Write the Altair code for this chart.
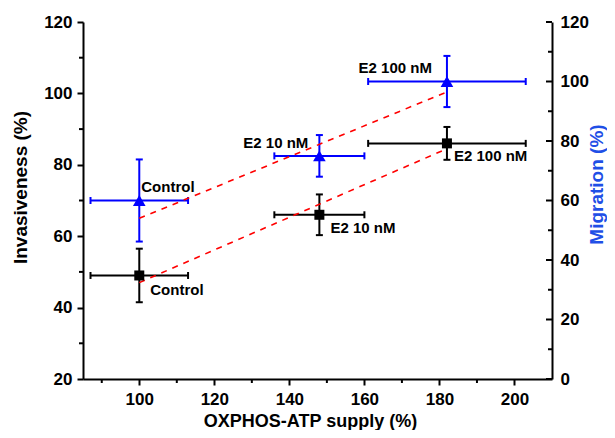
import altair as alt
import pandas as pd

# ---------------- data ----------------
conditions = ["Control", "E2 10 nM", "E2 100 nM"]
atp = [100, 148, 182]            # OXPHOS-ATP supply (%)
atp_err = [13, 12, 21]
invasiveness = [49, 66, 86]      # left axis (%)
inv_err = [7.5, 5.7, 4.6]
migration = [60, 75, 100]        # right axis (%)
mig_err = [13.8, 7.0, 8.6]

fit_x = [100, 182]
inv_fit = [47, 84.5]
mig_fit = [54, 96.5]

x_ticks = [100, 120, 140, 160, 180, 200]
x_minor = [90, 110, 130, 150, 170, 190]
inv_ticks = [20, 40, 60, 80, 100, 120]
inv_minor = [30, 50, 70, 90, 110]
mig_ticks = [0, 20, 40, 60, 80, 100, 120]
mig_minor = [10, 30, 50, 70, 90, 110]

# ---------------- layout / style ----------------
W, H = 469, 357
FONT = "Liberation Sans"
BLUE = "#0000ff"
TITLE_BLUE = "#1f4fe6"

df = pd.DataFrame({
    "condition": conditions,
    "atp": atp,
    "atp_lo": [a - e for a, e in zip(atp, atp_err)],
    "atp_hi": [a + e for a, e in zip(atp, atp_err)],
    "inv": invasiveness,
    "inv_lo": [a - e for a, e in zip(invasiveness, inv_err)],
    "inv_hi": [a + e for a, e in zip(invasiveness, inv_err)],
    "mig": migration,
    "mig_lo": [a - e for a, e in zip(migration, mig_err)],
    "mig_hi": [a + e for a, e in zip(migration, mig_err)],
})
fit_df = pd.DataFrame({"fx": fit_x, "inv_fit": inv_fit, "mig_fit": mig_fit})

xs = alt.Scale(domain=[85, 210], nice=False, zero=False)
ysl = alt.Scale(domain=[20, 120], nice=False, zero=False)
ysr = alt.Scale(domain=[0, 120], nice=False, zero=False)

common_axis = dict(
    labelFont=FONT, labelFontSize=17, labelFontWeight="bold", labelColor="black",
    titleFont=FONT, titleFontSize=19, titleFontWeight="bold",
    domainColor="black", domainWidth=2, tickColor="black", tickWidth=2,
    grid=False, labelFlush=False, labelOverlap=False, format="d",
)

x_common = dict(common_axis, titleFontSize=18)
x_axis = alt.Axis(values=x_ticks, title="OXPHOS-ATP supply (%)", tickSize=6,
                  labelPadding=6, titleColor="black", titleX=227, titleY=42,
                  titleBaseline="middle", titleAlign="center", **x_common)
yl_axis = alt.Axis(values=inv_ticks, title="Invasiveness (%)", tickSize=6,
                   labelPadding=5, titleColor="black", titleAngle=270,
                   titleX=-63, titleY=165, titleBaseline="middle",
                   titleAlign="center", **common_axis)
yr_axis = alt.Axis(values=mig_ticks, title="Migration (%)", orient="right",
                   ticks=False, tickSize=0, labelPadding=8, titleColor=TITLE_BLUE,
                   titleAngle=270, titleX=44, titleY=162, titleBaseline="middle",
                   titleAlign="center", **common_axis)


def X(f):
    return alt.X(f, type="quantitative", scale=xs, axis=x_axis)


def YL(f):
    return alt.Y(f, type="quantitative", scale=ysl, axis=yl_axis)


def YR(f):
    return alt.Y(f, type="quantitative", scale=ysr, axis=yr_axis)


def series_layers(Y, ycol, color, shape, size):
    base = alt.Chart(df)
    layers = [
        base.mark_rule(color=color, strokeWidth=2).encode(
            x=X("atp"), y=Y(ycol + "_lo"), y2=alt.Y2(ycol + "_hi")),
        base.mark_rule(color=color, strokeWidth=2).encode(
            y=Y(ycol), x=X("atp_lo"), x2=alt.X2("atp_hi")),
    ]
    for yc in (ycol + "_lo", ycol + "_hi"):
        layers.append(base.mark_tick(color=color, orient="horizontal", size=7,
                                     thickness=2, opacity=1).encode(x=X("atp"), y=Y(yc)))
    for xc in ("atp_lo", "atp_hi"):
        layers.append(base.mark_tick(color=color, orient="vertical", size=7,
                                     thickness=2, opacity=1).encode(x=X(xc), y=Y(ycol)))
    return layers, base.mark_point(shape=shape, filled=True, size=size, color=color,
                                   opacity=1).encode(x=X("atp"), y=Y(ycol))


def label_layers(Y, ycol, label_pos):
    out = []
    for name, (align, dx, dy) in label_pos.items():
        out.append(
            alt.Chart(df).transform_filter(alt.datum.condition == name)
            .mark_text(font=FONT, fontSize=15, fontWeight="bold", color="black",
                       align=align, baseline="middle", dx=dx, dy=dy)
            .encode(x=X("atp"), y=Y(ycol), text="condition:N")
        )
    return out


black_label_pos = {"Control": ("left", 11, 15),
                   "E2 10 nM": ("left", 11, 13),
                   "E2 100 nM": ("left", 7, 13)}
blue_label_pos = {"Control": ("left", 2, -14),
                  "E2 10 nM": ("right", -11, -13),
                  "E2 100 nM": ("right", -15, -14)}

# ---------------- left (invasiveness) layer ----------------
l_err, l_pts = series_layers(YL, "inv", "black", "square", 100)
l_fit = alt.Chart(fit_df).mark_line(color="red", strokeDash=[6, 6], strokeWidth=1.6).encode(
    x=X("fx"), y=YL("inv_fit"))
l_minor = alt.Chart(pd.DataFrame({"v": inv_minor})).mark_rule(color="black", strokeWidth=2).encode(
    y=YL("v"), x=alt.value(-4), x2=alt.value(0))
x_min = alt.Chart(pd.DataFrame({"v": x_minor})).mark_rule(color="black", strokeWidth=2).encode(
    x=X("v"), y=alt.value(H), y2=alt.value(H + 4))
left = alt.layer(*l_err, l_fit, l_pts, l_minor, x_min, *label_layers(YL, "inv", black_label_pos))

# ---------------- right (migration) layer ----------------
r_err, r_pts = series_layers(YR, "mig", BLUE, "triangle-up", 160)
r_fit = alt.Chart(fit_df).mark_line(color="red", strokeDash=[6, 6], strokeWidth=1.6).encode(
    x=X("fx"), y=YR("mig_fit"))
r_major = alt.Chart(pd.DataFrame({"v": mig_ticks})).mark_rule(color="black", strokeWidth=2).encode(
    y=YR("v"), x=alt.value(W - 6), x2=alt.value(W))
r_minor = alt.Chart(pd.DataFrame({"v": mig_minor})).mark_rule(color="black", strokeWidth=2).encode(
    y=YR("v"), x=alt.value(W - 4), x2=alt.value(W))
right = alt.layer(*r_err, r_fit, r_pts, r_major, r_minor, *label_layers(YR, "mig", blue_label_pos))

chart = (
    alt.layer(left, right)
    .resolve_scale(y="independent")
    .properties(width=W, height=H, background="white",
                autosize=alt.AutoSizeParams(type="none"),
                padding={"left": 75, "top": 14, "right": 55, "bottom": 51})
    .configure_view(stroke=None)
)

chart.save("out.html", embed_options={"renderer": "svg", "actions": False})
